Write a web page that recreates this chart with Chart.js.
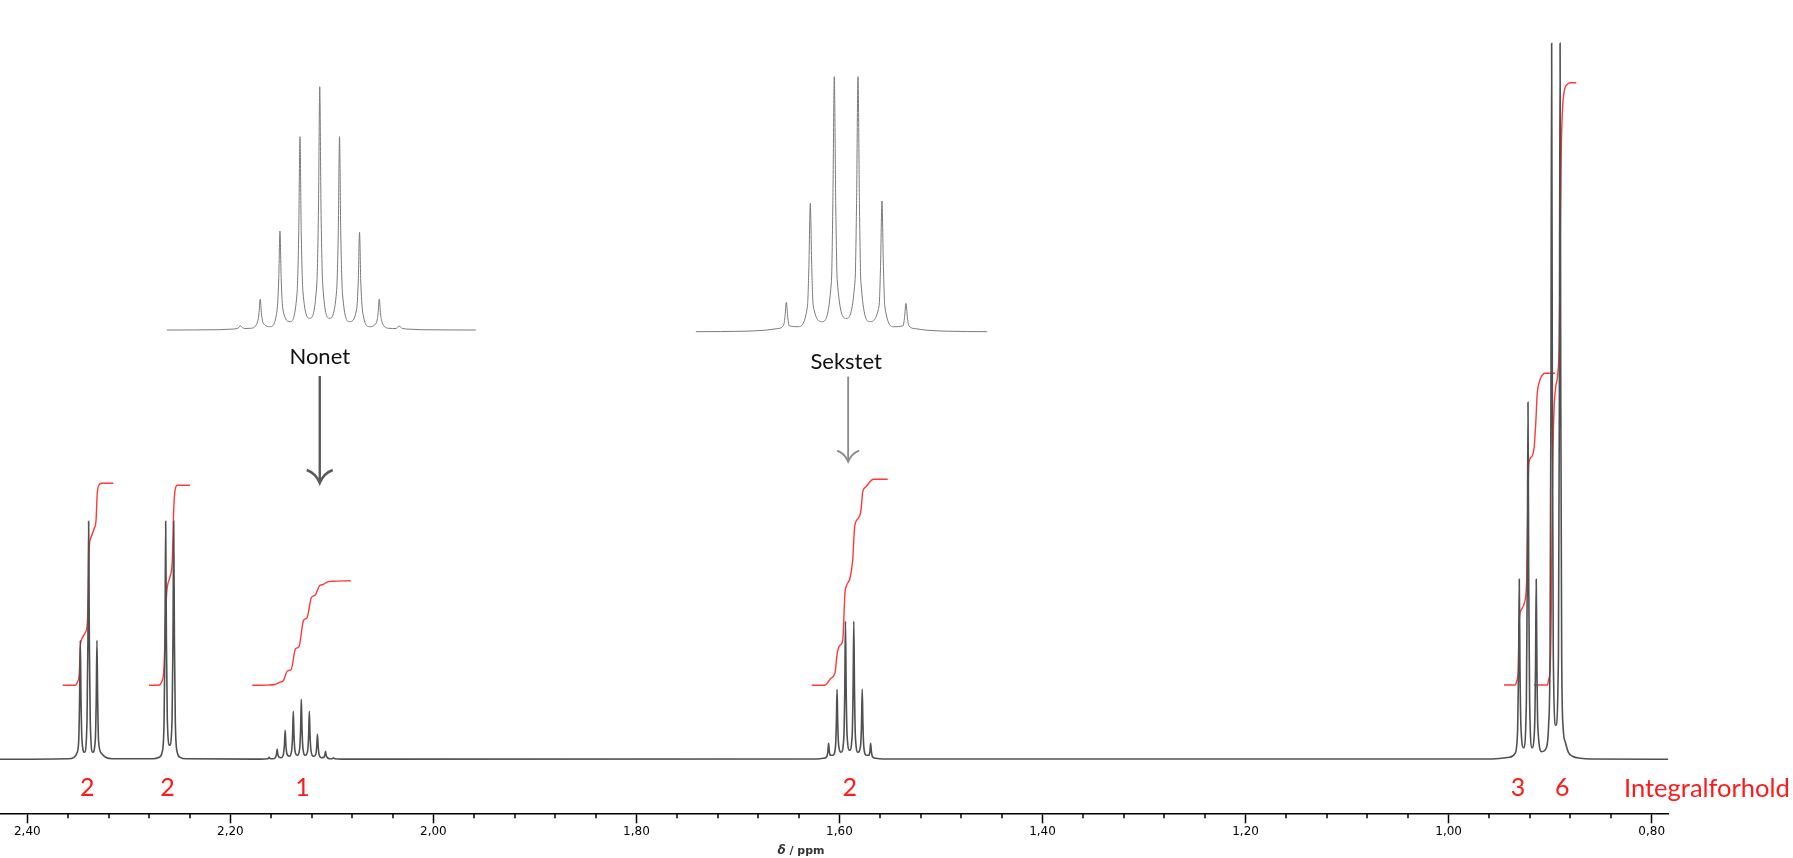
<!DOCTYPE html>
<html>
<head>
<meta charset="utf-8">
<script src="https://cdn.jsdelivr.net/npm/chart.js@4.4.0/dist/chart.umd.min.js"></script>
<style>
    html, body { margin: 0; padding: 0; background: #fff; }
    #wrap { width: 1793px; height: 858px; }
</style>
</head>
<body>
<div id="wrap"><canvas id="nmr" width="1793" height="858"></canvas></div>
<script>
// ppm range of the x axis
const axisMax = 2.4269;
const axisMin = 0.7836;
const majorTicks = [2.40, 2.20, 2.00, 1.80, 1.60, 1.40, 1.20, 1.00, 0.80];

// main spectrum, one trace per multiplet (ppm, intensity)
const tripletAPpm = [2.3600, 2.3540, 2.3512, 2.3494, 2.3485, 2.3478, 2.3471, 2.3462, 2.3437, 2.3412, 2.3403, 2.3396, 2.3389, 2.3380, 2.3355, 2.3330, 2.3321, 2.3314, 2.3307, 2.3298, 2.3270, 2.3230, 2.3160];
const tripletAInt = [0.5, 2, 6, 18, 60, 119, 60, 20, 7, 38, 119, 238, 119, 38, 7, 20, 60, 119, 60, 18, 6, 2, 0.5];

const doubletBPpm = [2.2760, 2.2700, 2.2672, 2.2653, 2.2644, 2.2637, 2.2630, 2.2621, 2.2598, 2.2574, 2.2565, 2.2558, 2.2551, 2.2542, 2.2523, 2.2495, 2.2435];
const doubletBInt = [0.5, 2, 7, 37, 119, 238, 120, 40, 14, 40, 120, 238, 119, 37, 7, 2, 0.5];

const nonetPpm = [2.1700, 2.1630, 2.1618, 2.1605, 2.1578, 2.1553, 2.1546, 2.1539, 2.1532, 2.1523, 2.1500, 2.1476, 2.1467, 2.1460, 2.1453, 2.1444, 2.1420, 2.1396, 2.1387, 2.1380, 2.1373, 2.1364, 2.1341, 2.1317, 2.1308, 2.1301, 2.1294, 2.1285, 2.1262, 2.1238, 2.1229, 2.1222, 2.1215, 2.1206, 2.1182, 2.1158, 2.1149, 2.1142, 2.1135, 2.1126, 2.1103, 2.1079, 2.1070, 2.1063, 2.1056, 2.1047, 2.1024, 2.0997, 2.0984, 2.0971, 2.0900];
const nonetInt = [0.2, 0.5, 2, 0.5, 0.5, 2.5, 5, 10, 5, 2.5, 1.5, 6, 15, 29, 15, 6, 3, 9, 24, 48, 24, 9, 4, 11, 30, 60, 30, 11, 4, 9, 24, 48, 24, 9, 3, 5, 13, 25, 13, 5, 1.5, 2, 4, 8, 4, 2, 0.5, 0.5, 1.5, 0.5, 0.2];

const sextetPpm = [1.6230, 1.6160, 1.6130, 1.6123, 1.6114, 1.6107, 1.6100, 1.6091, 1.6066, 1.6040, 1.6031, 1.6024, 1.6017, 1.6008, 1.5983, 1.5957, 1.5948, 1.5941, 1.5934, 1.5925, 1.5900, 1.5875, 1.5866, 1.5859, 1.5852, 1.5843, 1.5818, 1.5792, 1.5783, 1.5776, 1.5769, 1.5760, 1.5735, 1.5709, 1.5700, 1.5693, 1.5686, 1.5677, 1.5670, 1.5640, 1.5570];
const sextetInt = [0.3, 1, 2, 3, 8, 16, 8, 4, 4, 12, 35, 70, 35, 14, 7, 22, 69, 138, 69, 24, 9, 24, 69, 138, 69, 22, 7, 14, 35, 70, 35, 12, 4, 4, 8, 16, 8, 3, 2, 1, 0.3];

const methylPpm = [0.9650, 0.9500, 0.9400, 0.9345, 0.9320, 0.9311, 0.9304, 0.9297, 0.9288, 0.9261, 0.9234, 0.9225, 0.9218, 0.9211, 0.9202, 0.9178, 0.9153, 0.9144, 0.9137, 0.9130, 0.9121, 0.9083, 0.9035, 0.9015, 0.9001, 0.8992, 0.8985, 0.8978, 0.8969, 0.8944, 0.8918, 0.8909, 0.8902, 0.8895, 0.8886, 0.8872, 0.8850, 0.8820, 0.8780, 0.8700, 0.8600];
const methylInt = [0.3, 0.8, 2, 6, 30, 90, 180, 92, 34, 11.5, 58, 180, 357, 180, 58, 11.6, 32, 92, 180, 92, 32, 7.6, 12, 34, 105, 360, 716, 360, 105, 34, 105, 360, 716, 360, 101, 32, 17, 7, 3, 1, 0.3];

// expanded insets
const insetNonetPpm = [2.1912, 2.1700, 2.1660, 2.1630, 2.1623, 2.1618, 2.1613, 2.1600, 2.1578, 2.1551, 2.1544, 2.1539, 2.1534, 2.1527, 2.1499, 2.1472, 2.1465, 2.1460, 2.1455, 2.1448, 2.1420, 2.1392, 2.1385, 2.1380, 2.1375, 2.1368, 2.1341, 2.1313, 2.1306, 2.1301, 2.1296, 2.1289, 2.1262, 2.1234, 2.1227, 2.1222, 2.1217, 2.1210, 2.1182, 2.1154, 2.1147, 2.1142, 2.1137, 2.1130, 2.1103, 2.1075, 2.1068, 2.1063, 2.1058, 2.1051, 2.1024, 2.0996, 2.0989, 2.0984, 2.0979, 2.0970, 2.0940, 2.0900, 2.0677];
const insetNonetInt = [0, 0.3, 0.8, 1.5, 3, 4.3, 3, 1.5, 1.7, 7, 16, 30.7, 16, 7, 3.3, 19, 50, 99, 50, 20, 8.3, 36, 97, 193.3, 97, 38, 11.7, 45, 122, 243.3, 122, 45, 11.7, 38, 97, 193.3, 97, 36, 8.3, 20, 49, 97.7, 49, 19, 3.3, 7, 16, 31, 16, 7, 1.7, 1.5, 3, 4.3, 3, 1.5, 0.8, 0.3, 0];

const insetSextetPpm = [1.6420, 1.6250, 1.6180, 1.6140, 1.6117, 1.6112, 1.6107, 1.6102, 1.6097, 1.6066, 1.6034, 1.6029, 1.6024, 1.6019, 1.6014, 1.5983, 1.5951, 1.5946, 1.5941, 1.5936, 1.5931, 1.5900, 1.5869, 1.5864, 1.5859, 1.5854, 1.5849, 1.5818, 1.5786, 1.5781, 1.5776, 1.5771, 1.5766, 1.5735, 1.5703, 1.5698, 1.5693, 1.5688, 1.5683, 1.5660, 1.5620, 1.5550, 1.5412];
const insetSextetInt = [0, 0.5, 1.5, 3, 6, 14, 29.3, 14, 6, 5, 25, 64, 128.3, 64, 26, 10, 50, 128, 255, 128, 52, 13.3, 52, 128, 255, 128, 50, 10, 26, 65, 130.7, 65, 25, 5, 6, 14, 28.3, 14, 6, 3, 1.5, 0.5, 0];

const nonetCentre = 2.1301;
const sextetCentre = 1.5900;

// integral curves
const integralAPpm = [2.3651, 2.3530, 2.3504, 2.3488, 2.3478, 2.3468, 2.3432, 2.3409, 2.3399, 2.3389, 2.3376, 2.3340, 2.3323, 2.3311, 2.3294, 2.3267, 2.3153];
const integralAVal = [74, 74, 77.6, 86, 112.6, 119, 126, 136, 166, 212.6, 221, 231, 239, 266, 274, 276, 276];
const integralBPpm = [2.2801, 2.2710, 2.2676, 2.2653, 2.2641, 2.2627, 2.2594, 2.2572, 2.2558, 2.2545, 2.2522, 2.2397];
const integralBVal = [74, 74, 77.6, 92.6, 132.6, 166, 182.6, 199, 249, 269, 274, 274];
const integralCPpm = [2.1784, 2.1629, 2.1560, 2.1511, 2.1481, 2.1437, 2.1402, 2.1358, 2.1324, 2.1279, 2.1245, 2.1201, 2.1166, 2.1122, 2.1087, 2.1043, 2.0999, 2.0815];
const integralCVal = [74, 74.2, 74.8, 77.2, 78.2, 88.5, 89.5, 110.5, 112.5, 139, 141.5, 162, 164, 173.5, 174.8, 177.4, 178, 178.6];
const integralDPpm = [1.6274, 1.6143, 1.6110, 1.6087, 1.6045, 1.6022, 1.5995, 1.5968, 1.5946, 1.5929, 1.5897, 1.5870, 1.5850, 1.5815, 1.5788, 1.5771, 1.5739, 1.5699, 1.5667, 1.5525];
const integralDVal = [74, 74, 77.6, 81, 86, 106, 114, 119, 166, 174, 181, 199, 232.6, 241, 249, 267.6, 272.6, 277.6, 280, 280];
const integralEPpm = [0.9455, 0.9347, 0.9330, 0.9314, 0.9304, 0.9287, 0.9255, 0.9231, 0.9221, 0.9209, 0.9182, 0.9157, 0.9140, 0.9127, 0.9110, 0.9090, 0.9051, 0.8953];
const integralEVal = [74.3, 74.3, 77.6, 89, 139, 149, 156, 179, 246, 296, 302.6, 312.6, 339, 366, 376, 382, 386, 386];
const integralFPpm = [0.9159, 0.9026, 0.9016, 0.8999, 0.8989, 0.8977, 0.8963, 0.8945, 0.8925, 0.8910, 0.8900, 0.8890, 0.8878, 0.8861, 0.8831, 0.8802, 0.8743];
const integralFVal = [74.3, 74.3, 79, 93, 146, 279, 346, 372, 385, 420, 520, 610, 650, 668, 675, 676.6, 676.6];

const integralLabelPpm = [2.3409, 2.2618, 2.1289, 1.5900, 0.9317, 0.8880];
const integralLabels = ["2", "2", "1", "2", "3", "6"];

function pairs(xs, ys) {
    return xs.map((x, i) => ({ x: x, y: ys[i] }));
}

function isMajor(v) {
    return majorTicks.some(m => Math.abs(m - v) < 1e-6);
}

let tickValues = majorTicks.slice();
for (let i = 0; i < 40; i++) {
    let v = Math.round((0.80 + i * 0.04) * 100) / 100;
    if (!isMajor(v)) tickValues.push(v);
}
tickValues.sort((a, b) => a - b);
const minorTicks = tickValues.filter(v => !isMajor(v));

const spectrum = [{ x: axisMax, y: 0 }]
    .concat(pairs(tripletAPpm, tripletAInt))
    .concat(pairs(doubletBPpm, doubletBInt))
    .concat(pairs(nonetPpm, nonetInt))
    .concat(pairs(sextetPpm, sextetInt))
    .concat(pairs(methylPpm, methylInt))
    .concat([{ x: axisMin, y: 0 }]);

function integralSet(xs, ys) {
    return {
        data: pairs(xs, ys),
        borderColor: "#ff3838",
        borderWidth: 1.4,
        xAxisID: "x",
        yAxisID: "y"
    };
}

function arrow(ctx, x, y0, y1, head, color, width) {
    ctx.strokeStyle = color;
    ctx.lineWidth = width;
    ctx.beginPath();
    ctx.moveTo(x, y0);
    ctx.lineTo(x, y1);
    ctx.stroke();
    ctx.beginPath();
    ctx.moveTo(x - head, y1 - head);
    ctx.quadraticCurveTo(x - head * 0.3, y1 - head * 0.75, x, y1);
    ctx.quadraticCurveTo(x + head * 0.3, y1 - head * 0.75, x + head, y1 - head);
    ctx.stroke();
}

const annotations = {
    id: "annotations",
    afterDraw(chart) {
        const ctx = chart.ctx;
        const x = chart.scales.x;
        const xn = chart.scales.xn, yn = chart.scales.yn;
        const xs = chart.scales.xs, ys = chart.scales.ys;
        const bottom = chart.chartArea.bottom;
        ctx.save();

        // short minor ticks
        ctx.strokeStyle = "#000";
        ctx.lineWidth = 1.5;
        minorTicks.forEach(v => {
            let px = Math.round(x.getPixelForValue(v));
            ctx.beginPath();
            ctx.moveTo(px, bottom);
            ctx.lineTo(px, bottom + 5);
            ctx.stroke();
        });

        // integral ratios
        ctx.fillStyle = "#ff1a1a";
        ctx.font = "25px Lato";
        ctx.textAlign = "center";
        ctx.textBaseline = "middle";
        integralLabels.forEach((t, i) => {
            ctx.fillText(t, x.getPixelForValue(integralLabelPpm[i]), bottom - 25);
        });
        let size = 27;
        ctx.font = size + "px Lato";
        while (ctx.measureText("Integralforhold").width > 166 && size > 12) {
            size -= 0.5;
            ctx.font = size + "px Lato";
        }
        ctx.textAlign = "left";
        ctx.fillText("Integralforhold", 1624, bottom - 25);

        // inset captions and arrows
        ctx.fillStyle = "#111";
        ctx.font = "22px Lato";
        ctx.textAlign = "center";
        let nx = xn.getPixelForValue(nonetCentre), nb = yn.getPixelForValue(0);
        ctx.fillText("Nonet", nx, nb + 27);
        arrow(ctx, nx, nb + 46, nb + 153, 13, "#5a5a5a", 2.4);
        let sx = xs.getPixelForValue(sextetCentre), sb = ys.getPixelForValue(0);
        ctx.fillText("Sekstet", sx, sb + 30);
        arrow(ctx, sx + 2, sb + 45, sb + 130, 11, "#8a8a8a", 1.8);

        // axis title
        ctx.fillStyle = "#333";
        ctx.textBaseline = "middle";
        ctx.textAlign = "left";
        ctx.font = "italic bold 12px 'DejaVu Sans'";
        let w1 = ctx.measureText("\u03b4").width;
        ctx.font = "bold 11px 'DejaVu Sans'";
        let w2 = ctx.measureText(" / ppm").width;
        let tx = 801 - (w1 + w2) / 2;
        ctx.font = "italic bold 12px 'DejaVu Sans'";
        ctx.fillText("\u03b4", tx, 851);
        ctx.font = "bold 11px 'DejaVu Sans'";
        ctx.fillText(" / ppm", tx + w1, 851);

        ctx.restore();
    }
};

new Chart(document.getElementById("nmr"), {
    type: "scatter",
    data: {
        datasets: [
            {
                data: spectrum,
                borderColor: "#505050",
                borderWidth: 1.6,
                xAxisID: "x",
                yAxisID: "y"
            },
            integralSet(integralAPpm, integralAVal),
            integralSet(integralBPpm, integralBVal),
            integralSet(integralCPpm, integralCVal),
            integralSet(integralDPpm, integralDVal),
            integralSet(integralEPpm, integralEVal),
            integralSet(integralFPpm, integralFVal),
            {
                data: pairs(insetNonetPpm, insetNonetInt),
                borderColor: "#7a7a7a",
                borderWidth: 1,
                xAxisID: "xn",
                yAxisID: "yn"
            },
            {
                data: pairs(insetSextetPpm, insetSextetInt),
                borderColor: "#7a7a7a",
                borderWidth: 1,
                xAxisID: "xs",
                yAxisID: "ys"
            }
        ]
    },
    options: {
        responsive: false,
        animation: false,
        events: [],
        layout: { padding: { left: 0, top: 0, right: 124.7, bottom: 0 } },
        datasets: {
            scatter: {
                showLine: true,
                pointRadius: 0,
                cubicInterpolationMode: "monotone"
            }
        },
        plugins: {
            legend: { display: false },
            tooltip: { enabled: false },
            title: { display: false }
        },
        scales: {
            x: {
                type: "linear",
                position: "bottom",
                reverse: true,
                min: axisMin,
                max: axisMax,
                afterBuildTicks: s => { s.ticks = tickValues.map(v => ({ value: v })); },
                afterFit: s => { s.height = 44.7; },
                ticks: {
                    autoSkip: false,
                    maxRotation: 0,
                    padding: 1,
                    color: "#000",
                    font: { family: "DejaVu Sans", size: 12 },
                    callback: v => isMajor(v) ? v.toFixed(2).replace(".", ",") : ""
                },
                grid: {
                    drawOnChartArea: false,
                    drawTicks: true,
                    tickLength: 10,
                    tickWidth: 1.5,
                    tickColor: c => (c.tick && isMajor(c.tick.value)) ? "#000" : "rgba(0,0,0,0)"
                },
                border: { color: "#000", width: 1.5 }
            },
            y: { type: "linear", display: false, min: -54, max: 759.3 },
            xn: { type: "linear", axis: "x", display: false, reverse: true, min: 1.5911, max: 2.2579 },
            yn: { type: "linear", axis: "y", display: false, min: -483.3, max: 330 },
            xs: { type: "linear", axis: "x", display: false, reverse: true, min: 1.3055, max: 1.8828 },
            ys: { type: "linear", axis: "y", display: false, min: -481.6, max: 331.7 }
        }
    },
    plugins: [annotations]
});
</script>
</body>
</html>
